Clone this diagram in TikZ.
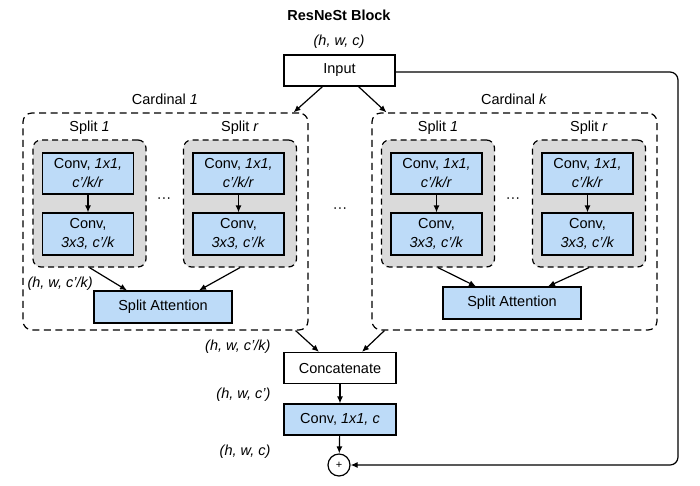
\documentclass[tikz,border=0pt]{standalone}
\usepackage{fontspec}
\setmainfont{Liberation Sans}
\usepackage{tikz}
\usetikzlibrary{positioning, calc, arrows.meta}

\definecolor{convblue}{HTML}{BDDBF8}
\definecolor{splitgray}{HTML}{DADADA}

\tikzset{
    plainbox/.style={draw, line width=1.2pt, fill=white, minimum width=112pt, minimum height=31pt, inner sep=0pt},
    bluebox/.style={plainbox, fill=convblue, align=center},
    splitbox/.style={draw, dashed, line width=1.2pt, dash pattern=on 6pt off 4pt, fill=splitgray, rounded corners=8pt, minimum width=113pt, minimum height=127pt},
    cardbox/.style={draw, line width=1.2pt, dash pattern=on 7pt off 4.5pt, rounded corners=9pt, minimum width=285pt, minimum height=217pt},
    shape lbl/.style={font=\fontsize{14.5}{19}\selectfont\itshape},
    arr/.style={-{Latex[length=7pt,width=6pt]}, line width=1.2pt}
}

\begin{document}
\begin{tikzpicture}[x=1pt, y=-1pt, font=\fontsize{14.5}{19}\selectfont]
    \useasboundingbox (0,0) rectangle (700,485);

    %タイトル
    \node[font=\fontsize{14.5}{19}\selectfont\bfseries] (title) at (339,15) {ResNeSt Block};
    \node[shape lbl] (inshape) at (339,42) {(h, w, c)};
    \node[plainbox, minimum width=111pt] (input) at (339.5,70.5) {Input};

    %カーディナルの枠
    \node[cardbox] (card1) at (165.5,221.5) {};
    \node[cardbox] (cardk) at (514.5,221.5) {};
    \node (card1lbl) at (165,99) {Cardinal \textit{1}};
    \node (cardklbl) at (514,99) {Cardinal \textit{k}};

    %スプリット
    \foreach \n/\x/\lab in {a/89.5/1, b/240/r, c/438/1, d/589/r} {
        \node[splitbox] (split\n) at (\x,203.5) {};
        \node (split\n lbl) at (\x,128) {Split \textit{\lab}};
        \node[bluebox, minimum width=91pt, minimum height=41pt] (convA\n) at (\x-1.5,173.5) {Conv, \textit{1x1,}\\\textit{c’/k/r}};
        \node[bluebox, minimum width=91pt, minimum height=42pt] (convB\n) at (\x-1.5,234) {Conv,\\\textit{3x3, c’/k}};
        \draw[arr] (convA\n) -- (convB\n);
    }

    %点々
    \node (dots1) at (164,200) {···};
    \node (dotsmid) at (340,210) {···};
    \node (dotsk) at (513,200) {···};

    %スプリットアテンション
    \node[bluebox, minimum width=138pt, minimum height=32pt] (att1) at (163,307) {Split Attention};
    \node[bluebox, minimum width=138pt, minimum height=32pt] (attk) at (512,303) {Split Attention};
    \node[shape lbl, anchor=west] (splitshape) at (24,284) {(h, w, c’/k)};

    \draw[arr] (splita.south) -- ($(att1.north)+(-36,0)$);
    \draw[arr] (splitb.south) -- ($(att1.north)+(36,0)$);
    \draw[arr] (splitc.south) -- ($(attk.north)+(-36,0)$);
    \draw[arr] (splitd.south) -- ($(attk.north)+(36,0)$);

    %入力から
    \draw[arr] ($(input.south)+(-17,0)$) -- ($(card1.north east)+(-15,0)$);
    \draw[arr] ($(input.south)+(19,0)$) -- ($(cardk.north west)+(15,0)$);

    %下の部分
    \node[plainbox] (concat) at (340,368) {Concatenate};
    \node[bluebox] (convc) at (340,419.5) {Conv, \textit{1x1, c}};
    \node[draw, circle, line width=1.2pt, minimum size=22pt, inner sep=0pt, font=\fontsize{11}{13}\selectfont] (plus) at (339,465) {+};

    \node[shape lbl, anchor=east] (catshape) at (274,347) {(h, w, c’/k)};
    \node[shape lbl, anchor=east] (convshape) at (274,395) {(h, w, c’)};
    \node[shape lbl, anchor=east] (outshape) at (274,452) {(h, w, c)};

    \draw[arr] ($(card1.south east)+(-13,0)$) -- ($(concat.north)+(-21,0)$);
    \draw[arr] ($(cardk.south west)+(13,0)$) -- ($(concat.north)+(22,0)$);
    \draw[arr] (concat) -- (convc);
    \draw[arr] (convc) -- (plus);

    %スキップ接続
    \coordinate (skip) at (678,72);
    \draw[arr, rounded corners=8pt] ($(input.east)+(0,1.5)$) -- (skip) -- (skip |- plus) -- (plus);
\end{tikzpicture}
\end{document}
